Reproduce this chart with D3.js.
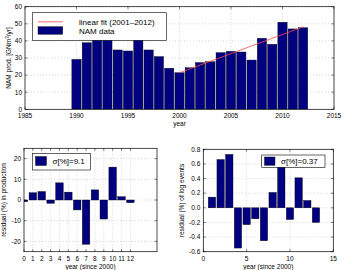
<!DOCTYPE html>
<html>
<head>
<meta charset="utf-8">
<script src="https://cdn.jsdelivr.net/npm/d3@7"></script>
<style>
  body { margin: 0; background: #fff; }
  svg { display: block; font-family: "Liberation Sans", Arial, sans-serif; }
  .grid line { stroke: #b8b8b8; stroke-width: 0.6; stroke-dasharray: 1 2; }
  .tick-label { font-size: 6.5px; fill: #000; }
  .axis-label { font-size: 6.5px; fill: #000; }
  .legend-text { font-size: 8px; fill: #000; }
</style>
</head>
<body>
<script>
  // NAM production per year
  var years = [1990, 1991, 1992, 1993, 1994, 1995, 1996, 1997, 1998, 1999, 2000,
               2001, 2002, 2003, 2004, 2005, 2006, 2007, 2008, 2009, 2010, 2011, 2012];
  var namProduction = [29.2, 38.9, 42, 41, 34.7, 34.1, 41, 34.7, 30.8, 24, 21.4,
                       24.3, 27.3, 27.8, 33.1, 33.9, 33.5, 28.8, 41.5, 38, 50.9, 47, 47.7];
  var fitYears = [2000, 2012];
  var fitValues = [21.4, 48.2];
  var yearTicks = [1985, 1990, 1995, 2000, 2005, 2010, 2015];
  var prodTicks = [0, 10, 20, 30, 40, 50, 60];

  // residual in production
  var prodResYears = [0, 1, 2, 3, 4, 5, 6, 7, 8, 9, 10, 11, 12];
  var prodResiduals = [-0.8, 3.5, 4.1, -1.6, 8.3, 3.8, -4.8, -21.4, 4.9, -9.2, 15.9, 1.6, -1.3];
  var prodResXTicks = [0, 1, 2, 3, 4, 5, 6, 7, 8, 9, 10, 11, 12];
  var prodResYTicks = [-20, -10, 0, 10, 20];

  // residual of log events
  var eventResYears = [1, 2, 3, 4, 5, 6, 7, 8, 9, 10, 11, 12, 13];
  var eventResiduals = [0.146, 0.66, 0.73, -0.55, -0.23, -0.15, -0.45, 0.21, 0.57, -0.16, 0.41, 0.10, -0.2];
  var eventResXTicks = [0, 5, 10, 15];
  var eventResYTicks = [-0.6, -0.4, -0.2, 0, 0.2, 0.4, 0.6, 0.8];

  var barColor = '#000080';
  var fitColor = '#ff4a4a';

  var svg = d3.select('body').append('svg')
    .attr('width', 345)
    .attr('height', 270);

  function drawPanel(cfg) {
    var g = svg.append('g');
    var x = d3.scaleLinear().domain(cfg.xDomain).range([cfg.left, cfg.right]);
    var y = d3.scaleLinear().domain(cfg.yDomain).range([cfg.bottom, cfg.top]);

    g.append('rect')
      .attr('x', cfg.left).attr('y', cfg.top)
      .attr('width', cfg.right - cfg.left).attr('height', cfg.bottom - cfg.top)
      .attr('fill', '#fff');

    var grid = g.append('g').attr('class', 'grid');
    grid.selectAll('line.gx')
      .data(cfg.xTicks)
      .enter().append('line')
      .attr('class', 'gx')
      .attr('x1', function(d) { return x(d); })
      .attr('x2', function(d) { return x(d); })
      .attr('y1', cfg.top)
      .attr('y2', cfg.bottom);
    grid.selectAll('line.gy')
      .data(cfg.yTicks)
      .enter().append('line')
      .attr('class', 'gy')
      .attr('x1', cfg.left)
      .attr('x2', cfg.right)
      .attr('y1', function(d) { return y(d); })
      .attr('y2', function(d) { return y(d); });

    var bw = (x(1) - x(0)) * cfg.barWidth;
    var clipId = 'clip' + cfg.id;
    svg.append('clipPath').attr('id', clipId)
      .append('rect')
      .attr('x', cfg.left).attr('y', cfg.top)
      .attr('width', cfg.right - cfg.left).attr('height', cfg.bottom - cfg.top);

    var bars = g.append('g').attr('clip-path', 'url(#' + clipId + ')');
    bars.selectAll('rect')
      .data(cfg.xs)
      .enter().append('rect')
      .attr('x', function(d) { return x(d) - bw / 2; })
      .attr('width', bw)
      .attr('y', function(d, i) { return y(Math.max(0, cfg.values[i])); })
      .attr('height', function(d, i) { return Math.abs(y(cfg.values[i]) - y(0)); })
      .attr('fill', barColor)
      .attr('stroke', '#000')
      .attr('stroke-width', 0.4);

    if (cfg.fit) {
      g.append('path')
        .datum(cfg.fit.xs)
        .attr('d', d3.line()
          .x(function(d) { return x(d); })
          .y(function(d, i) { return y(cfg.fit.values[i]); }))
        .attr('fill', 'none')
        .attr('stroke', fitColor)
        .attr('stroke-width', 0.8);
    }

    // box with inward ticks
    g.append('rect')
      .attr('x', cfg.left).attr('y', cfg.top)
      .attr('width', cfg.right - cfg.left).attr('height', cfg.bottom - cfg.top)
      .attr('fill', 'none')
      .attr('stroke', '#000')
      .attr('stroke-width', 0.7);

    var tl = 2.5;
    var ticks = g.append('g').attr('stroke', '#000').attr('stroke-width', 0.5);
    cfg.xTicks.forEach(function(t) {
      ticks.append('line').attr('x1', x(t)).attr('x2', x(t)).attr('y1', cfg.bottom).attr('y2', cfg.bottom - tl);
      ticks.append('line').attr('x1', x(t)).attr('x2', x(t)).attr('y1', cfg.top).attr('y2', cfg.top + tl);
    });
    cfg.yTicks.forEach(function(t) {
      ticks.append('line').attr('x1', cfg.left).attr('x2', cfg.left + tl).attr('y1', y(t)).attr('y2', y(t));
      ticks.append('line').attr('x1', cfg.right).attr('x2', cfg.right - tl).attr('y1', y(t)).attr('y2', y(t));
    });

    g.selectAll('text.xt')
      .data(cfg.xTicks)
      .enter().append('text')
      .attr('class', 'tick-label')
      .attr('x', function(d) { return x(d); })
      .attr('y', cfg.bottom + 9)
      .attr('text-anchor', 'middle')
      .text(function(d) { return cfg.xFormat(d); });

    g.selectAll('text.yt')
      .data(cfg.yTicks)
      .enter().append('text')
      .attr('class', 'tick-label')
      .attr('x', cfg.left - 3)
      .attr('y', function(d) { return y(d) + 2.3; })
      .attr('text-anchor', 'end')
      .text(function(d) { return cfg.yFormat(d); });

    g.append('text')
      .attr('class', 'axis-label')
      .attr('x', (cfg.left + cfg.right) / 2)
      .attr('y', cfg.bottom + 17)
      .attr('text-anchor', 'middle')
      .text(cfg.xLabel);

    var yl = g.append('text')
      .attr('class', 'axis-label')
      .attr('transform', 'translate(' + cfg.yLabelX + ',' + (cfg.top + cfg.bottom) / 2 + ') rotate(-90)')
      .attr('text-anchor', 'middle');
    cfg.yLabel(yl);

    return { g: g, x: x, y: y };
  }

  // top panel
  var topPanel = drawPanel({
    id: 'top', left: 25, right: 334, top: 6.7, bottom: 109.3,
    xDomain: [1985, 2015], yDomain: [0, 60],
    xTicks: yearTicks, yTicks: prodTicks,
    xs: years, values: namProduction, barWidth: 0.9,
    fit: { xs: fitYears, values: fitValues },
    xFormat: d3.format('d'), yFormat: d3.format('d'),
    xLabel: 'year', yLabelX: 11,
    yLabel: function(t) {
      t.append('tspan').text('NAM prod. [GNm');
      t.append('tspan').attr('dy', -2.5).style('font-size', '4.5px').text('3');
      t.append('tspan').attr('dy', 2.5).text('/yr]');
    }
  });

  var leg = topPanel.g.append('g');
  leg.append('rect')
    .attr('x', 32.3).attr('y', 12.7).attr('width', 134).attr('height', 27.6)
    .attr('fill', '#fff').attr('stroke', '#000').attr('stroke-width', 0.6);
  leg.append('line')
    .attr('x1', 38).attr('x2', 62.7).attr('y1', 21.7).attr('y2', 21.7)
    .attr('stroke', '#ff9a9a').attr('stroke-width', 1.5);
  leg.append('rect')
    .attr('x', 38).attr('y', 26.7).attr('width', 24.7).attr('height', 7.6)
    .attr('fill', barColor).attr('stroke', '#000').attr('stroke-width', 0.4);
  leg.append('text').attr('class', 'legend-text').attr('x', 79).attr('y', 24.5).text('linear fit (2001\u20132012)');
  leg.append('text').attr('class', 'legend-text').attr('x', 79).attr('y', 33.5).text('NAM data');

  // bottom left panel
  var bl = drawPanel({
    id: 'bl', left: 24, right: 157, top: 148.3, bottom: 251.7,
    xDomain: [0, 15], yDomain: [-25, 25],
    xTicks: prodResXTicks, yTicks: prodResYTicks,
    xs: prodResYears, values: prodResiduals, barWidth: 0.85,
    xFormat: d3.format('d'), yFormat: function(d) { return d3.format('d')(d).replace('\u2212', '-'); },
    xLabel: 'year (since 2000)', yLabelX: 6,
    yLabel: function(t) { t.text('residual (%) in production'); }
  });
  var legBl = bl.g.append('g');
  legBl.append('rect')
    .attr('x', 32.3).attr('y', 153.3).attr('width', 58).attr('height', 16.7)
    .attr('fill', '#fff').attr('stroke', '#000').attr('stroke-width', 0.6);
  legBl.append('rect')
    .attr('x', 35.5).attr('y', 156.5).attr('width', 11).attr('height', 9)
    .attr('fill', barColor).attr('stroke', '#000').attr('stroke-width', 0.4);
  legBl.append('text').attr('class', 'legend-text').attr('x', 52.5).attr('y', 164.3).text('\u03c3[%]=9.1');

  // bottom right panel
  var br = drawPanel({
    id: 'br', left: 203.3, right: 333.3, top: 149.3, bottom: 251.7,
    xDomain: [0, 15], yDomain: [-0.6, 0.8],
    xTicks: eventResXTicks, yTicks: eventResYTicks,
    xs: eventResYears, values: eventResiduals, barWidth: 0.85,
    xFormat: d3.format('d'), yFormat: function(d) { return d3.format('.1f')(d).replace('\u2212', '-'); },
    xLabel: 'year (since 2000)', yLabelX: 184,
    yLabel: function(t) { t.text('residual (%) of log events'); }
  });
  var legBr = br.g.append('g');
  legBr.append('rect')
    .attr('x', 261.7).attr('y', 155).attr('width', 63.3).attr('height', 12.3)
    .attr('fill', '#fff').attr('stroke', '#000').attr('stroke-width', 0.6);
  legBr.append('rect')
    .attr('x', 264.5).attr('y', 157).attr('width', 10.5).attr('height', 8.3)
    .attr('fill', barColor).attr('stroke', '#000').attr('stroke-width', 0.4);
  legBr.append('text').attr('class', 'legend-text').attr('x', 281).attr('y', 164.3).text('\u03c3[%]=0.37');
</script>
</body>
</html>
